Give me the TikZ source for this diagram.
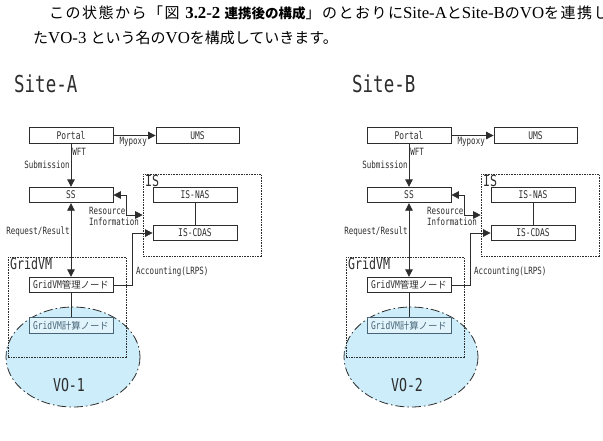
\documentclass[tikz,border=0pt]{standalone}
\usepackage{fontspec}
\setmainfont{Liberation Serif}[Scale=1.12]
\newfontfamily\jpfont{Noto Sans CJK JP}
\newfontfamily\jpwide[LetterSpace=10]{Noto Sans CJK JP}
\newfontfamily\gmono[FakeStretch=0.75]{DejaVu Sans Mono}
\usetikzlibrary{positioning,calc,arrows.meta}

\definecolor{voblue}{RGB}{205,237,250}
\definecolor{linegray}{RGB}{45,45,45}
\definecolor{nodeteal}{RGB}{70,100,118}

\newcommand{\jp}[1]{{\jpfont #1}}
\newcommand{\jpw}[1]{{\jpwide #1}}

\begin{document}
\begin{tikzpicture}[x=1pt, y=-1pt,
        box/.style={rectangle, draw=linegray, line width=0.8pt, minimum width=84pt, minimum height=15.5pt, inner sep=0pt, text=linegray, font=\gmono\fontsize{10.6}{12}\selectfont},
        box-vo/.style={box, fill=voblue!60, draw=nodeteal, text=nodeteal},
        group/.style={rectangle, draw=linegray, line width=0.6pt, dash pattern=on 1.6pt off 1pt, inner sep=0pt},
        group-name/.style={anchor=north west, inner sep=0pt, text=linegray, font=\gmono\fontsize{15.5}{16}\selectfont},
        vo/.style={draw=linegray, fill=voblue, line width=0.8pt, dash pattern=on 9pt off 3pt on 1.5pt off 3pt},
        lbl/.style={inner sep=1pt, text=linegray, font=\gmono\fontsize{10}{11}\selectfont},
        arrow/.style={-{Triangle[length=7.5pt,width=7.5pt]}, draw=linegray, line width=0.8pt},
        arrow-both/.style={{Triangle[length=7.5pt,width=7.5pt]}-{Triangle[length=7.5pt,width=7.5pt]}, draw=linegray, line width=0.8pt},
        line/.style={draw=linegray, line width=0.8pt}
    ]
    \useasboundingbox (0,0) rectangle (603,440);
    \clip (0,0) rectangle (603,440);

    % Intro text
    \node[anchor=base west, inner sep=0pt, font=\fontsize{15}{17}\selectfont] (intro1) at (49,18.5)
        {\jpw{この状態から「図}\ \textbf{3.2-2 {\jpfont\fontsize{13.5}{16}\selectfont 連携後の構成}}\jpw{」のとおりに}Site-A\jpw{と}Site-B\jpw{の}VO\jpw{を連携し}};
    \node[anchor=base west, inner sep=0pt, font=\fontsize{15}{17}\selectfont] (intro2) at (33,43.5)
        {\jp{た}VO-3 \jp{という名の}VO\jp{を構成していきます。}};

    \foreach \site/\dx/\vo in {A/0/1, B/338/2} {
    \begin{scope}[xshift=\dx, name prefix=\site-]

    % VO area
    \draw[vo] (73,357) ellipse [x radius=67, y radius=50];
    \node[font=\gmono\fontsize{17.7}{18}\selectfont, text=linegray] (voname) at (69,385) {VO-\vo};

    % Site title
    \node[anchor=west, inner sep=0pt, text=linegray, font=\gmono\fontsize{23.3}{24}\selectfont] (title) at (14,84) {Site-\site};

    % Groups
    \node[group, minimum width=118pt, minimum height=82pt] (isbox) at (202,215) {};
    \node[group-name] (isname) at (145,174.5) {IS};
    \node[group, minimum width=118pt, minimum height=100pt] (gridvm) at (67,307) {};
    \node[group-name] (gridvmname) at (10,258) {GridVM};

    % Boxes - left column
    \node[box] (portal) at (71,135.5) {Portal};
    \node[box] (ss) at (71,195) {SS};
    \node[box] (kanri) at (71,285) {GridVM{\jpfont\fontsize{9.4}{10}\selectfont 管理ノード}};
    \node[box-vo] (keisan) at (71,325.5) {GridVM{\jpfont\fontsize{9.4}{10}\selectfont 計算ノード}};

    % Boxes - right column
    \node[box, minimum width=83pt] (ums) at (197.5,135.5) {UMS};
    \node[box] (isnas) at (195,195) {IS-NAS};
    \node[box] (iscdas) at (195,233) {IS-CDAS};

    % Labels
    \node[lbl, anchor=north west, align=left] (resinfo) at (88,206) {Resource\\Information};
    \node[lbl, anchor=west] (acct) at (135,272) {Accounting(LRPS)};

    % Connections
    \draw[arrow] (portal) -- node[lbl, below, pos=0.47] (mypoxy) {Mypoxy} (ums);
    \draw[arrow] (portal) -- node[lbl, right, pos=0.18] (wft) {WFT} node[lbl, left, pos=0.48] (submit) {Submission} (ss);
    \draw[arrow-both] (ss) -- node[lbl, left, pos=0.39] (reqres) {Request/Result} (kanri);
    \draw[arrow-both] (ss.east) -- ++(13,0) |- (isbox.west);
    \draw[arrow] (kanri.east) -- ++(19,0) |- (iscdas.west);
    \draw[line] (isnas) -- (iscdas);
    \draw[line] (kanri) -- (keisan);

    \end{scope}
    }

\end{tikzpicture}
\end{document}
